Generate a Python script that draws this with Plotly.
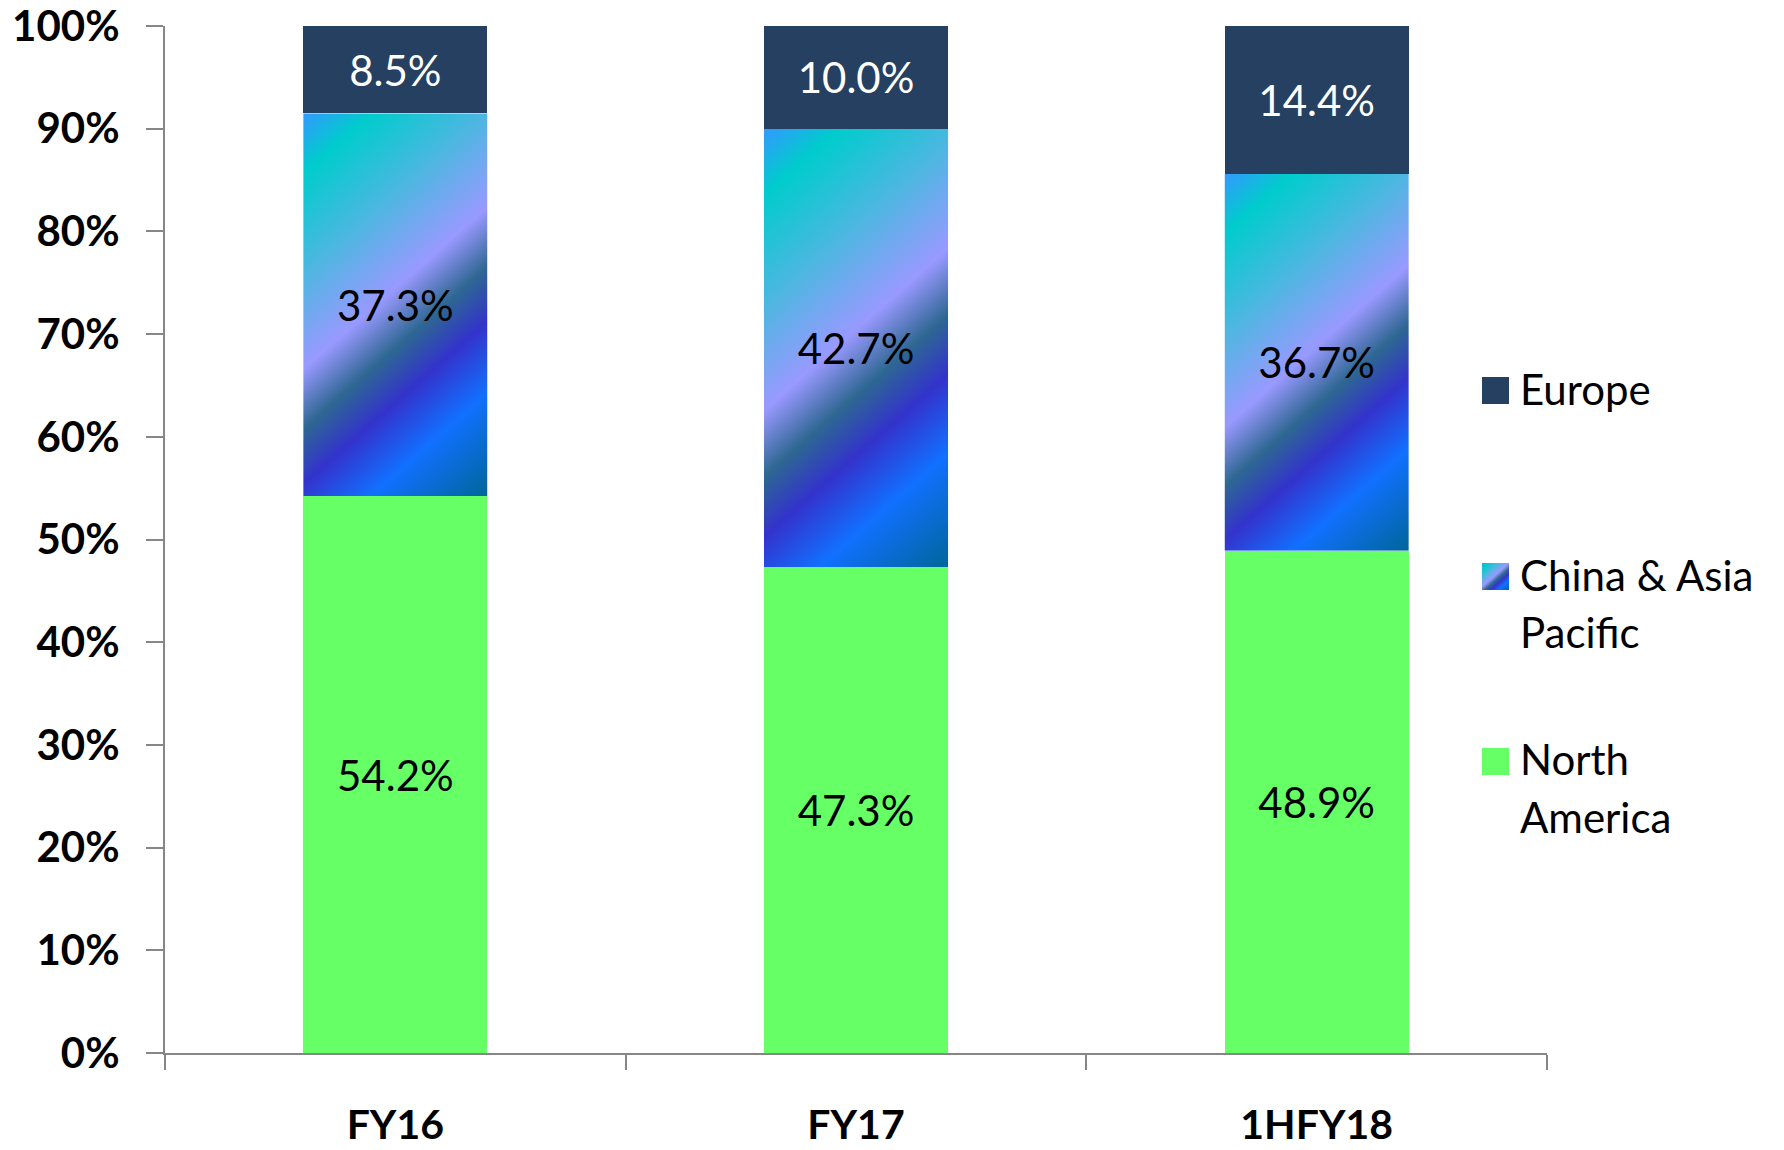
import base64
import plotly.graph_objects as go

# ---------------- data ----------------
categories = ["FY16", "FY17", "1HFY18"]
north_america = [54.2, 47.3, 48.9]
china_asia_pacific = [37.3, 42.7, 36.7]
europe = [8.5, 10.0, 14.4]
series_names = ["Europe", "China & Asia Pacific", "North America"]
y_ticks = [0, 10, 20, 30, 40, 50, 60, 70, 80, 90, 100]

# ---------------- layout constants ----------------
W, H = 1784, 1150
ML, MR, MT, MB = 165, 237, 26, 97
PW, PH = W - ML - MR, H - MT - MB
BAR_W = 0.4
FONT = "Lato"
AXIS_COLOR = "#868686"
EUROPE_COLOR = "#254061"
NA_COLOR = "#66FF66"

GRAD_STOPS = [
    (0.00, "#3399FF"),
    (0.11, "#00CCCC"),
    (0.30, "#4FB6E2"),
    (0.47, "#9999FF"),
    (0.58, "#2E6792"),
    (0.68, "#3333CC"),
    (0.81, "#1170FF"),
    (1.00, "#006699"),
]


def gradient_uri(w, h):
    dx, dy = 0.661, 0.750
    tmax = w * dx + h * dy
    stops = "".join(
        f'<stop offset="{o}" stop-color="{c}"/>' for o, c in GRAD_STOPS
    )
    svg = (
        f'<svg xmlns="http://www.w3.org/2000/svg" width="{w:.1f}" height="{h:.1f}" '
        f'viewBox="0 0 {w:.1f} {h:.1f}" preserveAspectRatio="none">'
        f'<defs><linearGradient id="g" gradientUnits="userSpaceOnUse" x1="0" y1="0" '
        f'x2="{dx * tmax:.2f}" y2="{dy * tmax:.2f}">{stops}</linearGradient></defs>'
        f'<rect x="0" y="0" width="{w:.1f}" height="{h:.1f}" fill="url(#g)"/></svg>'
    )
    return "data:image/svg+xml;base64," + base64.b64encode(svg.encode()).decode()


def px2x(px):
    return (px - ML) / PW


def px2y(py):
    return 1 - (py - MT) / PH


fig = go.Figure()

fig.add_trace(go.Bar(
    name=series_names[2], x=categories, y=north_america,
    marker=dict(color=NA_COLOR, line=dict(width=0)),
    texttemplate="%{y:.1f}%", textposition="inside", insidetextanchor="middle",
    textangle=0, textfont=dict(family=FONT, size=42, color="black"),
    width=BAR_W, hoverinfo="skip",
))
fig.add_trace(go.Bar(
    name=series_names[1], x=categories, y=china_asia_pacific,
    marker=dict(color="rgba(0,0,0,0)", line=dict(width=0)),
    texttemplate="%{y:.1f}%", textposition="inside", insidetextanchor="middle",
    textangle=0, textfont=dict(family=FONT, size=42, color="black"),
    width=BAR_W, hoverinfo="skip",
))
fig.add_trace(go.Bar(
    name=series_names[0], x=categories, y=europe,
    marker=dict(color=EUROPE_COLOR, line=dict(width=0)),
    texttemplate="%{y:.1f}%", textposition="inside", insidetextanchor="middle",
    textangle=0, textfont=dict(family=FONT, size=42, color="white"),
    width=BAR_W, hoverinfo="skip",
))

# gradient fill for China & Asia Pacific segments (positioned in data coordinates)
images = []
bar_px_w = BAR_W * PW / len(categories)
for i, (base, val) in enumerate(zip(north_america, china_asia_pacific)):
    images.append(dict(
        source=gradient_uri(bar_px_w, val / 100 * PH),
        xref="x", yref="y", x=i - BAR_W / 2, y=base + val,
        sizex=BAR_W, sizey=val, xanchor="left", yanchor="top",
        sizing="stretch", layer="below",
    ))

# custom legend
SW = 27
legend_items = [
    (series_names[0], EUROPE_COLOR, 377, ["Europe"], [389]),
    (series_names[1], None, 563, ["China & Asia", "Pacific"], [575, 632]),
    (series_names[2], NA_COLOR, 748, ["North", "America"], [759, 817]),
]
shapes = []
annotations = []
for name, color, top, lines, centers in legend_items:
    x0, x1 = px2x(1482), px2x(1482 + SW)
    y0, y1 = px2y(top + SW), px2y(top)
    if color is None:
        images.append(dict(
            source=gradient_uri(SW, SW), xref="paper", yref="paper",
            x=x0, y=y1, sizex=x1 - x0, sizey=y1 - y0,
            xanchor="left", yanchor="top", sizing="stretch", layer="above",
        ))
    else:
        shapes.append(dict(type="rect", xref="paper", yref="paper",
                           x0=x0, x1=x1, y0=y0, y1=y1,
                           fillcolor=color, line=dict(width=0)))
    for txt, cy in zip(lines, centers):
        annotations.append(dict(
            text=txt, xref="paper", yref="paper", x=px2x(1518), y=px2y(cy),
            xanchor="left", yanchor="middle", showarrow=False,
            font=dict(family=FONT, size=42, color="black"),
        ))

fig.update_layout(
    barmode="stack",
    width=W, height=H,
    margin=dict(l=ML, r=MR, t=MT, b=MB, pad=0, autoexpand=False),
    paper_bgcolor="white", plot_bgcolor="white",
    showlegend=False,
    font=dict(family=FONT, color="black"),
    images=images, shapes=shapes, annotations=annotations,
    xaxis=dict(
        type="category", range=[-0.5, 2.5], automargin=False,
        showline=True, linecolor=AXIS_COLOR, linewidth=2,
        ticks="outside", tickson="boundaries", ticklen=15, tickwidth=2,
        tickcolor=AXIS_COLOR, showgrid=False, zeroline=False,
        tickfont=dict(family=FONT, size=41, color="black", weight="bold"),
        ticklabelstandoff=35, ticklabeloverflow="allow",
    ),
    yaxis=dict(
        range=[0, 100], tickvals=y_ticks, ticktext=[f"{v}%" for v in y_ticks],
        automargin=False,
        showline=True, linecolor=AXIS_COLOR, linewidth=2,
        ticks="outside", ticklen=17, tickwidth=2, tickcolor=AXIS_COLOR,
        showgrid=False, zeroline=False,
        tickfont=dict(family=FONT, size=42, color="black", weight="bold"),
        ticklabelstandoff=18, ticklabeloverflow="allow",
    ),
)

fig.write_html(
    "out.html",
    config={"displayModeBar": False, "staticPlot": True},
    post_script="document.body.style.margin='0px';document.body.style.overflow='hidden';",
)
